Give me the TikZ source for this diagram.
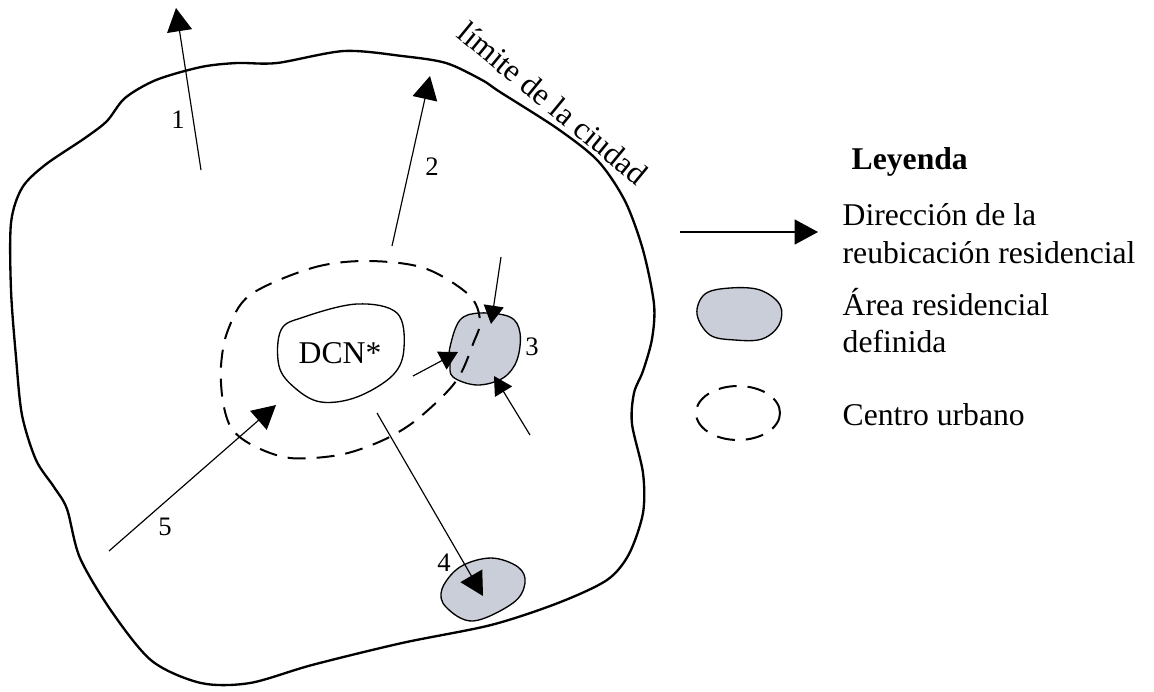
\documentclass[tikz,border=0pt]{standalone}
\usepackage{fontspec}
\setmainfont{Liberation Serif}
\usetikzlibrary{arrows.meta}
\definecolor{blobgray}{RGB}{202,206,216}

\begin{document}
\begin{tikzpicture}[x=0.3pt,y=-0.3pt,
  font=\fontsize{9.5}{11.4}\selectfont,
  boundary/.style={line width=0.7pt},
  move/.style={line width=0.35pt,-{Triangle[length=7pt,width=7.5pt]}},
  smallmove/.style={line width=0.35pt,-{Triangle[length=5.5pt,width=6pt]}},
  centre/.style={line width=0.6pt,dash pattern=on 5.4pt off 3.3pt},
  resarea/.style={line width=0.4pt,fill=blobgray},
  num/.style={font=\fontsize{8}{9.6}\selectfont,inner sep=0pt},
  legtext/.style={anchor=base west,inner sep=0pt}]
\useasboundingbox (0,0) rectangle (1154,691);

% City boundary
\draw[boundary] plot[smooth cycle,tension=0.5] coordinates {
  (277,63) (344,51) (402,56) (446,63) (482,80) (500,92) (558,129)
  (598,161) (625,201) (643,250) (654,304) (652,339) (643,371)
  (634,393) (632,424) (643,473) (643,513) (629,554) (607,580)
  (558,603) (491,625) (402,643) (312,665) (250,683) (201,683)
  (152,661) (112,612) (80,558) (67,509) (54,487) (36,460) (22,415)
  (16,357) (11,290) (11,223) (22,188) (45,165) (85,138) (107,121)
  (125,98) (156,80) (201,67) (237,63)};
\node[rotate=-39.5] (limit) at (553,103) {límite de la ciudad};

% Downtown core
\draw[line width=0.4pt] plot[smooth cycle,tension=0.6] coordinates {
  (281,330) (304,317) (357,304) (397,313) (404,348) (393,375)
  (357,397) (321,402) (295,388) (279,366)};
\node (dcn) at (340,353) {DCN*};

% Residential areas
\draw[resarea] plot[smooth cycle,tension=0.6] coordinates {
  (450,347) (460,320) (480,313) (510,317) (520,333) (517,360)
  (503,378) (477,385) (453,377) (450,363)};
\draw[resarea] plot[smooth cycle,tension=0.6] coordinates {
  (442,589) (460,567) (491,558) (518,567) (525,583) (513,603)
  (473,621) (446,607)};

% Urban centre
\draw[centre] plot[smooth cycle,tension=0.55] coordinates {
  (250,295) (312,268) (366,261) (424,268) (469,295) (480,321)
  (473,344) (460,375) (442,397) (411,424) (379,442) (339,455)
  (290,458) (254,446) (232,429) (223,402) (221,366) (228,330)};

% Relocation arrows
\coordinate (a1s) at (201,170); \coordinate (a1e) at (176,8);
\coordinate (a2s) at (392,246); \coordinate (a2e) at (430,76);
\coordinate (a3s) at (501,257); \coordinate (a3e) at (491,324);
\coordinate (b3s) at (413,376); \coordinate (b3e) at (458,352);
\coordinate (c3s) at (530,435); \coordinate (c3e) at (494,376);
\coordinate (a4s) at (377,413); \coordinate (a4e) at (483,596);
\coordinate (a5s) at (109,551); \coordinate (a5e) at (276,405);
\draw[move] (a1s) -- (a1e);
\draw[move] (a2s) -- (a2e);
\draw[smallmove] (a3s) -- (a3e);
\draw[smallmove] (b3s) -- (b3e);
\draw[smallmove] (c3s) -- (c3e);
\draw[move] (a4s) -- (a4e);
\draw[move] (a5s) -- (a5e);
\node[num] (n1) at (178,120) {1};
\node[num] (n2) at (432,167) {2};
\node[num] (n3) at (532,347) {3};
\node[num] (n4) at (444,563) {4};
\node[num] (n5) at (165,527) {5};

% Legend
\node[legtext,font=\fontsize{9.5}{11.4}\selectfont\bfseries] (legtitle) at (851,169) {Leyenda};
\coordinate (lgs) at (680,232); \coordinate (lge) at (818,232);
\draw[move] (lgs) -- (lge);
\node[legtext] (legA) at (842,225) {Dirección de la};
\node[legtext] (legB) at (842,263) {reubicación residencial};
\draw[resarea] plot[smooth cycle,tension=0.6] coordinates {
  (697,314) (705,294) (730,288) (760,290) (780,305) (779,325)
  (762,339) (735,340) (710,335)};
\node[legtext] (legC) at (842,315) {Área residencial};
\node[legtext] (legD) at (842,352) {definida};
\draw[centre] (738,413) ellipse [x radius=42, y radius=27];
\node[legtext] (legE) at (842,425) {Centro urbano};

\end{tikzpicture}
\end{document}
